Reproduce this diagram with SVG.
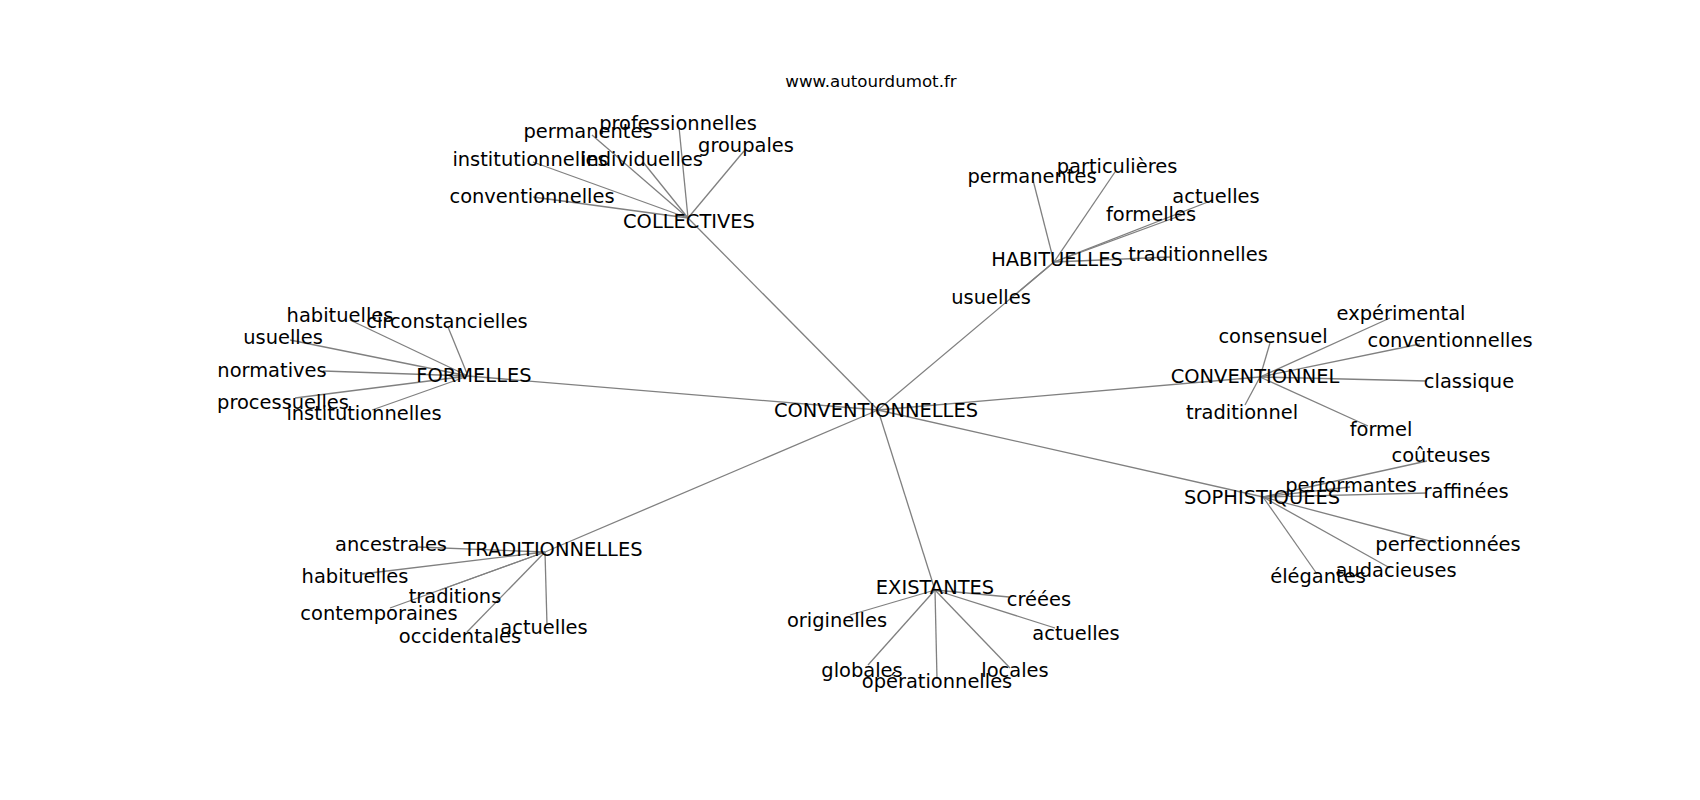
<svg xmlns="http://www.w3.org/2000/svg" width="1700" height="800" viewBox="0 0 1700 800">
<style>
  text { font-family: "DejaVu Sans", "Liberation Sans", sans-serif; fill: #000; text-anchor: middle; }
  .lbl { font-size: 19.44px; }
  .title { font-size: 16.67px; }
  .edges line { stroke: #808080; stroke-width: 1.3; }
</style>
<rect width="1700" height="800" fill="#fff"/>
<text class="title" x="871" y="87">www.autourdumot.fr</text>
<g class="edges" id="connectors">
  <line x1="878" y1="410" x2="688" y2="218"/>
  <line x1="878" y1="410" x2="1054" y2="262"/>
  <line x1="878" y1="410" x2="468" y2="376"/>
  <line x1="878" y1="410" x2="1260" y2="377"/>
  <line x1="878" y1="410" x2="1263" y2="497"/>
  <line x1="878" y1="410" x2="545" y2="552"/>
  <line x1="878" y1="410" x2="935" y2="590"/>
  <line x1="688" y1="218" x2="679" y2="127"/>
  <line x1="688" y1="218" x2="592" y2="135"/>
  <line x1="688" y1="218" x2="744" y2="151"/>
  <line x1="688" y1="218" x2="533" y2="162"/>
  <line x1="688" y1="218" x2="643" y2="162"/>
  <line x1="688" y1="218" x2="533" y2="197"/>
  <line x1="1054" y1="262" x2="1033" y2="180"/>
  <line x1="1054" y1="262" x2="1115" y2="172"/>
  <line x1="1054" y1="262" x2="1213" y2="200"/>
  <line x1="1054" y1="262" x2="1182" y2="215"/>
  <line x1="1054" y1="262" x2="1170" y2="257"/>
  <line x1="1054" y1="262" x2="1015" y2="295"/>
  <line x1="468" y1="376" x2="350" y2="320"/>
  <line x1="468" y1="376" x2="448" y2="327"/>
  <line x1="468" y1="376" x2="290" y2="340"/>
  <line x1="468" y1="376" x2="323" y2="371"/>
  <line x1="468" y1="376" x2="295" y2="398"/>
  <line x1="468" y1="376" x2="372" y2="410"/>
  <line x1="1260" y1="377" x2="1390" y2="318"/>
  <line x1="1260" y1="377" x2="1270" y2="343"/>
  <line x1="1260" y1="377" x2="1420" y2="344"/>
  <line x1="1260" y1="377" x2="1427" y2="381"/>
  <line x1="1260" y1="377" x2="1245" y2="405"/>
  <line x1="1260" y1="377" x2="1368" y2="426"/>
  <line x1="1263" y1="497" x2="1427" y2="461"/>
  <line x1="1263" y1="497" x2="1350" y2="487"/>
  <line x1="1263" y1="497" x2="1427" y2="493"/>
  <line x1="1263" y1="497" x2="1437" y2="543"/>
  <line x1="1263" y1="497" x2="1390" y2="568"/>
  <line x1="1263" y1="497" x2="1317" y2="574"/>
  <line x1="545" y1="552" x2="417" y2="547"/>
  <line x1="545" y1="552" x2="362" y2="574"/>
  <line x1="545" y1="552" x2="440" y2="590"/>
  <line x1="545" y1="552" x2="390" y2="608"/>
  <line x1="545" y1="552" x2="467" y2="632"/>
  <line x1="545" y1="552" x2="547" y2="625"/>
  <line x1="935" y1="590" x2="1009" y2="597"/>
  <line x1="935" y1="590" x2="850" y2="615"/>
  <line x1="935" y1="590" x2="1055" y2="628"/>
  <line x1="935" y1="590" x2="868" y2="665"/>
  <line x1="935" y1="590" x2="937" y2="679"/>
  <line x1="935" y1="590" x2="1010" y2="668"/>
</g>
<g id="n-conventionnelles"><text class="lbl" x="876" y="417">CONVENTIONNELLES</text></g>
<g id="n-collectives"><text class="lbl" x="689" y="228">COLLECTIVES</text></g>
<g id="n-habituelles"><text class="lbl" x="1057" y="266">HABITUELLES</text></g>
<g id="n-formelles"><text class="lbl" x="474" y="382">FORMELLES</text></g>
<g id="n-conventionnel"><text class="lbl" x="1255" y="383">CONVENTIONNEL</text></g>
<g id="n-sophistiquees"><text class="lbl" x="1262" y="504">SOPHISTIQUEES</text></g>
<g id="n-traditionnelles"><text class="lbl" x="553" y="556">TRADITIONNELLES</text></g>
<g id="n-existantes"><text class="lbl" x="935" y="594">EXISTANTES</text></g>

<g id="col-professionnelles"><text class="lbl" x="678" y="130">professionnelles</text></g>
<g id="col-permanentes"><text class="lbl" x="588" y="138">permanentes</text></g>
<g id="col-groupales"><text class="lbl" x="746" y="152">groupales</text></g>
<g id="col-institutionnelles"><text class="lbl" x="530" y="166">institutionnelles</text></g>
<g id="col-individuelles"><text class="lbl" x="642" y="166">individuelles</text></g>
<g id="col-conventionnelles"><text class="lbl" x="532" y="203">conventionnelles</text></g>

<g id="hab-permanentes"><text class="lbl" x="1032" y="183">permanentes</text></g>
<g id="hab-particulieres"><text class="lbl" x="1117" y="173">particulières</text></g>
<g id="hab-actuelles"><text class="lbl" x="1216" y="203">actuelles</text></g>
<g id="hab-formelles"><text class="lbl" x="1151" y="221">formelles</text></g>
<g id="hab-traditionnelles"><text class="lbl" x="1198" y="261">traditionnelles</text></g>
<g id="hab-usuelles"><text class="lbl" x="991" y="304">usuelles</text></g>

<g id="for-habituelles"><text class="lbl" x="340" y="322">habituelles</text></g>
<g id="for-circonstancielles"><text class="lbl" x="447" y="328">circonstancielles</text></g>
<g id="for-usuelles"><text class="lbl" x="283" y="344">usuelles</text></g>
<g id="for-normatives"><text class="lbl" x="272" y="377">normatives</text></g>
<g id="for-processuelles"><text class="lbl" x="283" y="409">processuelles</text></g>
<g id="for-institutionnelles"><text class="lbl" x="364" y="420">institutionnelles</text></g>

<g id="cvl-experimental"><text class="lbl" x="1401" y="320">expérimental</text></g>
<g id="cvl-consensuel"><text class="lbl" x="1273" y="343">consensuel</text></g>
<g id="cvl-conventionnelles"><text class="lbl" x="1450" y="347">conventionnelles</text></g>
<g id="cvl-classique"><text class="lbl" x="1469" y="388">classique</text></g>
<g id="cvl-traditionnel"><text class="lbl" x="1242" y="419">traditionnel</text></g>
<g id="cvl-formel"><text class="lbl" x="1381" y="436">formel</text></g>

<g id="sop-couteuses"><text class="lbl" x="1441" y="462">coûteuses</text></g>
<g id="sop-performantes"><text class="lbl" x="1351" y="492">performantes</text></g>
<g id="sop-raffinees"><text class="lbl" x="1466" y="498">raffinées</text></g>
<g id="sop-perfectionnees"><text class="lbl" x="1448" y="551">perfectionnées</text></g>
<g id="sop-audacieuses"><text class="lbl" x="1396" y="577">audacieuses</text></g>
<g id="sop-elegantes"><text class="lbl" x="1318" y="583">élégantes</text></g>

<g id="tra-ancestrales"><text class="lbl" x="391" y="551">ancestrales</text></g>
<g id="tra-habituelles"><text class="lbl" x="355" y="583">habituelles</text></g>
<g id="tra-traditions"><text class="lbl" x="455" y="603">traditions</text></g>
<g id="tra-contemporaines"><text class="lbl" x="379" y="620">contemporaines</text></g>
<g id="tra-occidentales"><text class="lbl" x="460" y="643">occidentales</text></g>
<g id="tra-actuelles"><text class="lbl" x="544" y="634">actuelles</text></g>

<g id="exi-creees"><text class="lbl" x="1039" y="606">créées</text></g>
<g id="exi-originelles"><text class="lbl" x="837" y="627">originelles</text></g>
<g id="exi-actuelles"><text class="lbl" x="1076" y="640">actuelles</text></g>
<g id="exi-globales"><text class="lbl" x="862" y="677">globales</text></g>
<g id="exi-operationnelles"><text class="lbl" x="937" y="688">opérationnelles</text></g>
<g id="exi-locales"><text class="lbl" x="1015" y="677">locales</text></g>
</svg>
